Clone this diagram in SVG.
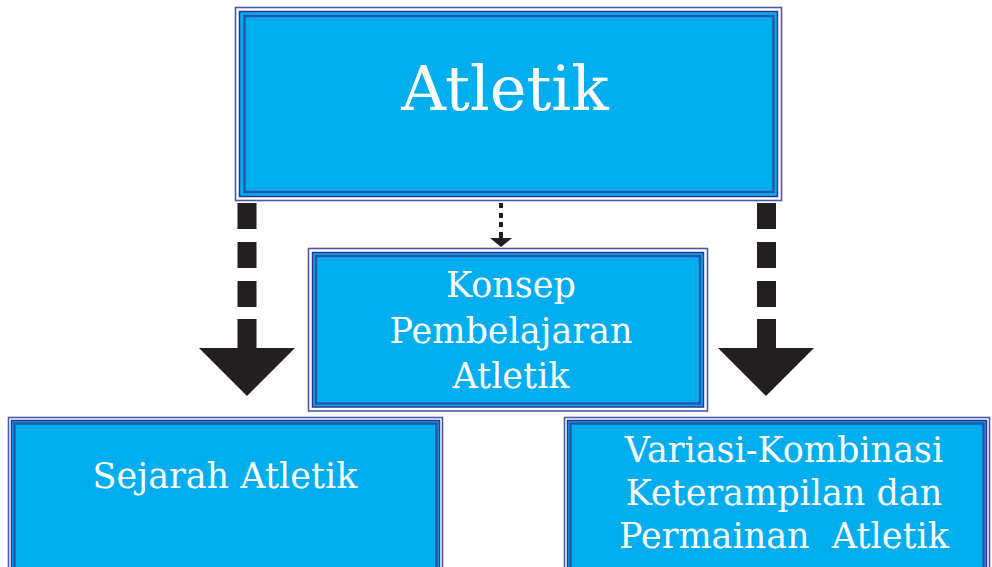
<svg xmlns="http://www.w3.org/2000/svg" width="992" height="567" viewBox="0 0 992 567">
<style>
.outer{fill:#ffffff;stroke:#4a58a6;stroke-width:1.6}
.mid{fill:#00aeef;stroke:#2e3192;stroke-width:1.5}
.inner{fill:#00aeef;stroke:#2753a8;stroke-width:2.4}
.t{font-family:"DejaVu Serif","Liberation Serif",serif;fill:#ffffff;text-anchor:middle}
.a{fill:#231f20}
</style>
<rect width="992" height="567" fill="#ffffff"/>
<g id="connectors">
<g id="arrow-left" class="a">
<rect x="237.5" y="203" width="19" height="26"/>
<rect x="237.5" y="242" width="19" height="26"/>
<rect x="237.5" y="281" width="19" height="26"/>
<rect x="237.5" y="319" width="19" height="30"/>
<polygon points="199,348 295,348 247,396"/>
</g>
<g id="arrow-mid" class="a">
<rect x="499" y="203" width="4" height="5"/>
<rect x="499" y="213" width="4" height="5"/>
<rect x="499" y="222" width="4" height="5"/>
<rect x="499" y="232" width="4" height="7"/>
<polygon points="490,238 512,238 501,247"/>
</g>
<g id="arrow-right" class="a">
<rect x="757" y="203" width="19" height="26"/>
<rect x="757" y="242" width="19" height="26"/>
<rect x="757" y="281" width="19" height="26"/>
<rect x="757" y="319" width="19" height="30"/>
<polygon points="718,348 814,348 766,396"/>
</g>
</g>
<g id="node-atletik">
<rect class="outer" x="235.5" y="7.5" width="546" height="193"/>
<rect class="mid" x="239.5" y="11.5" width="538" height="185"/>
<rect class="inner" x="244.5" y="16" width="529" height="176"/>
<text class="t" x="505" y="110" font-size="62">Atletik</text>
</g>
<g id="node-konsep">
<rect class="outer" x="308.5" y="248.5" width="399" height="162.5"/>
<rect class="mid" x="312.5" y="252.5" width="391" height="154.5"/>
<rect class="inner" x="316" y="256" width="384" height="147.5"/>
<text class="t" font-size="35"><tspan x="511" y="297">Konsep</tspan><tspan x="511" y="343">Pembelajaran</tspan><tspan x="511" y="388">Atletik</tspan></text>
</g>
<g id="node-sejarah">
<rect class="outer" x="8.5" y="417.5" width="434" height="170"/>
<rect class="mid" x="11.5" y="420.5" width="428" height="170"/>
<rect class="inner" x="14.5" y="423.5" width="422" height="170"/>
<text class="t" x="225" y="488" font-size="35">Sejarah Atletik</text>
</g>
<g id="node-variasi">
<rect class="outer" x="564.5" y="417.5" width="425" height="170"/>
<rect class="mid" x="567.5" y="420.5" width="419" height="170"/>
<rect class="inner" x="570.5" y="423.5" width="413" height="170"/>
<text class="t" font-size="35" xml:space="preserve"><tspan x="784" y="462">Variasi-Kombinasi</tspan><tspan x="784" y="505">Keterampilan dan</tspan><tspan x="784" y="548">Permainan  Atletik</tspan></text>
</g>
</svg>
